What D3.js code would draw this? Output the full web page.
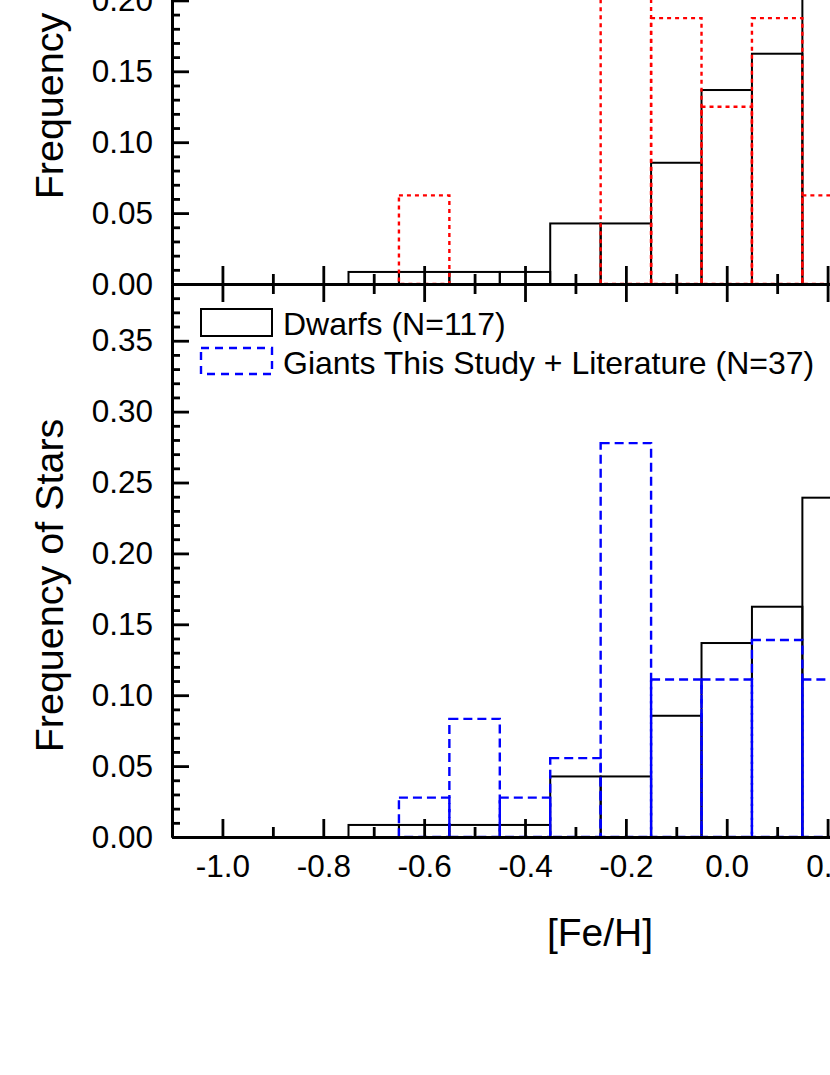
<!DOCTYPE html>
<meta charset="utf-8">
<style>
body {
  margin: 0;
  background: #fff;
  font-family: "Liberation Sans", Arial, Helvetica, sans-serif;
}
svg { display: block; }
.domain { stroke: #000; stroke-width: 3; }
.tick line { stroke: #000; stroke-width: 2.8; }
.tick text { fill: #000; }
</style>
<body>
<script src="https://d3js.org/d3.v7.min.js"></script>
<script>

var width = 830,
    height = 1075;

// histogram bins ([Fe/H] left edge of each 0.1-wide bin)
var binStarts = [-0.75, -0.65, -0.55, -0.45, -0.35, -0.25, -0.15, -0.05, 0.05, 0.15];
var binWidth = 0.1;

// frequency of stars per bin
var dwarfs      = [0.0085, 0.0085, 0.0085, 0.0085, 0.0427, 0.0427, 0.0855, 0.1368, 0.1624, 0.2393];
var giantsTop   = [0, 0.0625, 0, 0, 0, 0.25, 0.1875, 0.125, 0.1875, 0.0625];
var giantsAll   = [0, 0.0278, 0.0833, 0.0278, 0.0556, 0.2778, 0.1111, 0.1111, 0.1389, 0.1111];

// axis ticks
var xMajor = [-1.0, -0.8, -0.6, -0.4, -0.2, 0.0, 0.2, 0.4, 0.6];
var xMajorLabels = ["-1.0", "-0.8", "-0.6", "-0.4", "-0.2", "0.0", "0.2", "0.4", "0.6"];
var xMinor = [-0.9, -0.7, -0.5, -0.3, -0.1, 0.1, 0.3, 0.5];
var yMajor = [0, 0.05, 0.10, 0.15, 0.20, 0.25, 0.30, 0.35];
var yMajorLabels = ["0.00", "0.05", "0.10", "0.15", "0.20", "0.25", "0.30", "0.35"];
var yMinor = d3.range(1, 39).map(function(i) { return i / 100; })
  .filter(function(v) { return Math.round(v * 100) % 5 !== 0; });

var legendLabels = ["Dwarfs (N=117)", "Giants This Study + Literature (N=37)"];

var left = 172,
    panelH = 553,
    bottomTop = 284;

var x = d3.scaleLinear()
    .domain([-1.1, 0.7])
    .range([left, left + 1.8 * 504.3]);

var y = d3.scaleLinear()
    .domain([0, 0.39])
    .range([panelH, 0]);

var svg = d3.select("body").append("svg")
    .attr("width", width)
    .attr("height", height);

function makePanel(offsetY, series, color, dash, showXLabels) {
  var g = svg.append("g")
      .attr("transform", "translate(0," + offsetY + ")");

  // black dwarfs outline
  g.selectAll(".dwarf")
      .data(binStarts.map(function(b, i) { return {x0: b, v: dwarfs[i]}; }).filter(function(d) { return d.v > 0; }))
    .enter().append("rect")
      .attr("class", "dwarf")
      .attr("x", function(d) { return x(d.x0); })
      .attr("y", function(d) { return y(d.v); })
      .attr("width", function(d) { return x(d.x0 + binWidth) - x(d.x0); })
      .attr("height", function(d) { return y(0) - y(d.v); })
      .attr("fill", "none")
      .attr("stroke", "#000")
      .attr("stroke-width", 2);

  // giants outline
  g.selectAll(".giant")
      .data(binStarts.map(function(b, i) { return {x0: b, v: series[i]}; }).filter(function(d) { return d.v > 0; }))
    .enter().append("rect")
      .attr("class", "giant")
      .attr("x", function(d) { return x(d.x0); })
      .attr("y", function(d) { return y(d.v); })
      .attr("width", function(d) { return x(d.x0 + binWidth) - x(d.x0); })
      .attr("height", function(d) { return y(0) - y(d.v); })
      .attr("fill", "none")
      .attr("stroke", color)
      .attr("stroke-width", 2.4)
      .attr("stroke-dasharray", dash);

  // bottom axis (ticks inward)
  var xb = g.append("g")
      .attr("transform", "translate(0," + panelH + ")")
      .call(d3.axisBottom(x).tickValues(xMajor).tickSize(-18).tickSizeOuter(0).tickPadding(18)
        .tickFormat(function(d, i) { return showXLabels ? xMajorLabels[i] : ""; }));
  xb.selectAll("text").attr("font-size", 31.5).attr("font-family", "Liberation Sans, Arial, sans-serif");
  g.append("g")
      .attr("transform", "translate(0," + panelH + ")")
      .call(d3.axisBottom(x).tickValues(xMinor).tickSize(-10).tickSizeOuter(0).tickFormat(""));

  // top axis (ticks inward)
  g.append("g")
      .call(d3.axisTop(x).tickValues(xMajor).tickSize(-18).tickSizeOuter(0).tickFormat(""));
  g.append("g")
      .call(d3.axisTop(x).tickValues(xMinor).tickSize(-10).tickSizeOuter(0).tickFormat(""));

  // left axis
  var yl = g.append("g")
      .attr("transform", "translate(" + left + ",0)")
      .call(d3.axisLeft(y).tickValues(yMajor).tickSize(-17).tickSizeOuter(0).tickPadding(19)
        .tickFormat(function(d, i) { return yMajorLabels[i]; }));
  yl.selectAll("text").attr("font-size", 31.5).attr("font-family", "Liberation Sans, Arial, sans-serif");
  g.append("g")
      .attr("transform", "translate(" + left + ",0)")
      .call(d3.axisLeft(y).tickValues(yMinor).tickSize(-8).tickSizeOuter(0).tickFormat(""));

  // y title
  g.append("text")
      .attr("transform", "translate(63," + (panelH / 2 + 25) + ") rotate(-90)")
      .attr("text-anchor", "middle")
      .attr("font-size", 39.5)
      .text("Frequency of Stars");

  return g;
}

makePanel(bottomTop - panelH, giantsTop, "#ff0000", "4,4", false);
var bottom = makePanel(bottomTop, giantsAll, "#0000ff", "9,5", true);

// legend in bottom panel
var legend = bottom.append("g")
    .attr("transform", "translate(201,25)");

legend.append("rect")
    .attr("x", 0).attr("y", 0)
    .attr("width", 71).attr("height", 27)
    .attr("fill", "none").attr("stroke", "#000").attr("stroke-width", 2);
legend.append("rect")
    .attr("x", 0).attr("y", 39)
    .attr("width", 71).attr("height", 26)
    .attr("fill", "none").attr("stroke", "#0000ff").attr("stroke-width", 2.4)
    .attr("stroke-dasharray", "8,6");

legend.selectAll(".leg")
    .data(legendLabels)
  .enter().append("text")
    .attr("x", 82)
    .attr("y", function(d, i) { return 14 + i * 39; })
    .attr("dy", "0.36em")
    .attr("font-size", 32)
    .text(function(d) { return d; });

// x title
svg.append("text")
    .attr("x", 600)
    .attr("y", 946)
    .attr("text-anchor", "middle")
    .attr("font-size", 39)
    .text("[Fe/H]");

</script>
